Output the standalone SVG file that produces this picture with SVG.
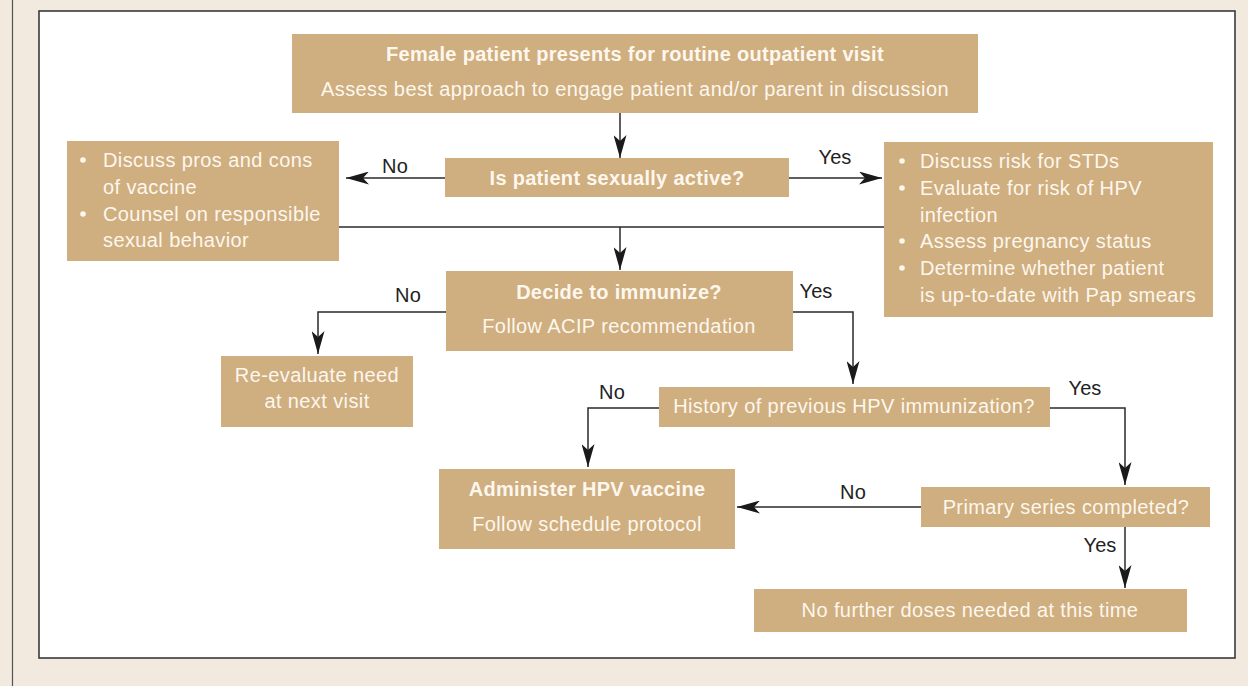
<svg xmlns="http://www.w3.org/2000/svg" width="1248" height="686" viewBox="0 0 1248 686">
<style>
.box{fill:#cfae7f}
.t{font-family:"Liberation Sans",Arial,sans-serif;font-size:20px;fill:#fdf7ee;letter-spacing:0.4px}
.b{font-weight:bold;letter-spacing:0.3px}
.m{text-anchor:middle}
.lbl{font-family:"Liberation Sans",Arial,sans-serif;font-size:20px;fill:#222;text-anchor:middle;letter-spacing:0.1px}
.ln{fill:none;stroke:#2a2a2a;stroke-width:1.5}
.arr{marker-end:url(#ah)}
.dot{fill:#fdf7ee}
</style>
<defs>
<marker id="ah" markerUnits="userSpaceOnUse" viewBox="0 0 23 13" markerWidth="23" markerHeight="13" refX="23" refY="6.5" orient="auto">
<path d="M0,0 L23,6.5 L0,13 L6,6.5 Z" fill="#1a1a1a"/>
</marker>
</defs>
<rect x="0" y="0" width="1248" height="686" fill="#f2e9df"/>
<line x1="12.5" y1="0" x2="12.5" y2="686" stroke="#555" stroke-width="1.2"/>
<rect x="39" y="11" width="1196" height="647" fill="#ffffff" stroke="#3a3a3a" stroke-width="1.6"/>

<g id="connectors">
<line class="ln arr" x1="620" y1="113" x2="620" y2="158"/>
<line class="ln arr" x1="445" y1="178" x2="346" y2="178"/>
<line class="ln arr" x1="789" y1="178" x2="882" y2="178"/>
<line class="ln" x1="339" y1="227" x2="884" y2="227"/>
<line class="ln arr" x1="620" y1="227" x2="620" y2="270"/>
<polyline class="ln arr" points="446,312 318,312 318,354"/>
<polyline class="ln arr" points="793,312 853,312 853,384"/>
<polyline class="ln arr" points="659,408 588,408 588,467"/>
<polyline class="ln arr" points="1050,408 1125,408 1125,485"/>
<line class="ln arr" x1="921" y1="507" x2="737" y2="507"/>
<line class="ln arr" x1="1125" y1="527" x2="1125" y2="588"/>
<text class="lbl" x="395" y="173">No</text>
<text class="lbl" x="835" y="164">Yes</text>
<text class="lbl" x="408" y="302">No</text>
<text class="lbl" x="816" y="298">Yes</text>
<text class="lbl" x="612" y="399">No</text>
<text class="lbl" x="1085" y="395">Yes</text>
<text class="lbl" x="853" y="499">No</text>
<text class="lbl" x="1100" y="552">Yes</text>
</g>

<g id="start">
<rect class="box" x="292" y="34" width="686" height="79"/>
<text class="t b m" x="635" y="61">Female patient presents for routine outpatient visit</text>
<text class="t m" x="635" y="96">Assess best approach to engage patient and/or parent in discussion</text>
</g>

<g id="sexually-active">
<rect class="box" x="445" y="158" width="344" height="39"/>
<text class="t b m" x="617" y="185">Is patient sexually active?</text>
</g>

<g id="not-active">
<rect class="box" x="67" y="141" width="272" height="120"/>
<circle class="dot" cx="83" cy="160" r="2.8"/>
<circle class="dot" cx="83" cy="214" r="2.8"/>
<text class="t" x="103" y="167">Discuss pros and cons</text>
<text class="t" x="103" y="194">of vaccine</text>
<text class="t" x="103" y="221">Counsel on responsible</text>
<text class="t" x="103" y="247">sexual behavior</text>
</g>

<g id="active">
<rect class="box" x="884" y="142" width="329" height="175"/>
<circle class="dot" cx="902" cy="161" r="2.8"/>
<circle class="dot" cx="902" cy="188" r="2.8"/>
<circle class="dot" cx="902" cy="241" r="2.8"/>
<circle class="dot" cx="902" cy="268" r="2.8"/>
<text class="t" x="920" y="168">Discuss risk for STDs</text>
<text class="t" x="920" y="195">Evaluate for risk of HPV</text>
<text class="t" x="920" y="222">infection</text>
<text class="t" x="920" y="248">Assess pregnancy status</text>
<text class="t" x="920" y="275">Determine whether patient</text>
<text class="t" x="920" y="302">is up-to-date with Pap smears</text>
</g>

<g id="decide">
<rect class="box" x="446" y="271" width="347" height="80"/>
<text class="t b m" x="619" y="299">Decide to immunize?</text>
<text class="t m" x="619" y="333">Follow ACIP recommendation</text>
</g>

<g id="reevaluate">
<rect class="box" x="221" y="356" width="192" height="71"/>
<text class="t m" x="317" y="382">Re-evaluate need</text>
<text class="t m" x="317" y="408">at next visit</text>
</g>

<g id="history">
<rect class="box" x="659" y="387" width="391" height="40"/>
<text class="t m" x="854" y="413">History of previous HPV immunization?</text>
</g>

<g id="administer">
<rect class="box" x="439" y="469" width="296" height="80"/>
<text class="t b m" x="587" y="496">Administer HPV vaccine</text>
<text class="t m" x="587" y="531">Follow schedule protocol</text>
</g>

<g id="primary">
<rect class="box" x="921" y="487" width="289" height="40"/>
<text class="t m" x="1066" y="514">Primary series completed?</text>
</g>

<g id="no-further">
<rect class="box" x="754" y="589" width="433" height="43"/>
<text class="t m" x="970" y="617">No further doses needed at this time</text>
</g>
</svg>
